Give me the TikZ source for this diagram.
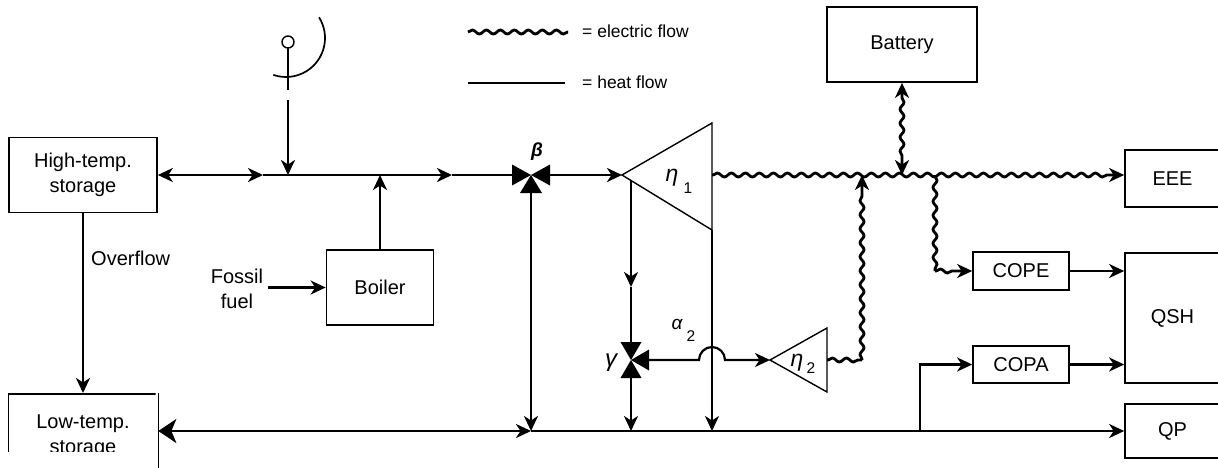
\documentclass[tikz,border=0pt]{standalone}
\usepackage{fontspec}
\setmainfont{Liberation Sans}
\usetikzlibrary{arrows.meta,decorations.pathmorphing,calc}
\begin{document}
\begin{tikzpicture}[x=1pt,y=-1pt,
  >={Stealth[length=15pt,width=14pt,inset=4.5pt]},
  box/.style={draw, line width=1.7pt, inner sep=0pt, font=\fontsize{20}{25}\selectfont, align=center},
  heat/.style={line width=2.6pt},
  thinheat/.style={line width=2.2pt},
  elec/.style={line width=2.8pt, decorate, decoration={snake, segment length=14pt, amplitude=2pt, pre length=1pt, post length=15pt}},
  elecboth/.style={line width=2.8pt, decorate, decoration={snake, segment length=14pt, amplitude=2pt, pre length=15pt, post length=15pt}},
  eleclegend/.style={line width=2.8pt, decorate, decoration={snake, segment length=14pt, amplitude=2pt}},
  lbl/.style={font=\fontsize{20}{25}\selectfont, inner sep=0pt},
  greek/.style={font=\fontsize{23}{26}\selectfont\itshape, inner sep=0pt},
  sub/.style={font=\fontsize{15.5}{18}\selectfont, inner sep=0pt},
  leg/.style={font=\fontsize{17.5}{20}\selectfont, inner sep=0pt, anchor=west},
  tri/.style={draw, line width=1.4pt, line join=miter},
  valve/.style={fill=black},
]
\useasboundingbox (0,0) rectangle (1218,467);
\clip (0,0) rectangle (1218,467);

% ---------- boxes ----------
\node[box, minimum width=148pt, minimum height=75pt] (HT) at (83,175) {High-temp.\\storage};
\node[box, minimum width=107pt, minimum height=75pt] (BO) at (380,287.5) {Boiler};
\node[box, minimum width=150pt, minimum height=75pt] (BA) at (902,44.5) {Battery};
\node[box, minimum width=95pt, minimum height=57pt] (EEE) at (1172.5,178.5) {EEE};
\node[box, minimum width=95pt, minimum height=130pt] (QSH) at (1172.5,318) {QSH};
\node[box, minimum width=95pt, minimum height=54pt] (QP) at (1172.5,431) {QP};
\node[box, minimum width=96pt, minimum height=38pt] (COPE) at (1021,271) {COPE};
\node[box, minimum width=96pt, minimum height=37pt] (COPA) at (1021,364.5) {COPA};
\begin{scope}
  \clip (0,380) rectangle (155.6,451);
  \node[box, minimum width=149pt, minimum height=100pt, anchor=north] (LT) at (83,393) {};
  \node[lbl, align=center] (LTtext) at (83,436) {Low-temp.\\storage};
\end{scope}
\draw[line width=1.7pt] (LT.north east) -- ($(LT.north east)+(0,80)$);

% ---------- legend ----------
\coordinate (l1a) at (468,32); \coordinate (l1b) at (568,32);
\coordinate (l2a) at (468,83); \coordinate (l2b) at (565,83);
\draw[eleclegend] (l1a) -- (l1b);
\draw[heat] (l2a) -- (l2b);
\node[leg] (legE) at (582,31) {= electric flow};
\node[leg] (legH) at (582,82) {= heat flow};

% ---------- solar collector ----------
\coordinate (sol) at (288,42);
\draw[line width=1.4pt] (sol) circle[radius=6];
\draw[line width=1.7pt] ($(sol)+(0,6)$) -- (288,90);
\draw[line width=1.7pt] ($(286,38)+(-32:39)$) arc[start angle=-32,end angle=109,radius=39];

% ---------- key coordinates ----------
\coordinate (a1) at (263,175);
\coordinate (sj) at (288,175);
\coordinate (a2) at (452,175);
\coordinate (beta) at (531,175);
\coordinate (e1) at (622,175);
\coordinate (e1t) at (712,123);
\coordinate (e1b) at (712,230);
\coordinate (bA) at (531,431);
\coordinate (gam) at (631,360);
\coordinate (g0) at (631,180.5);
\coordinate (g1) at (631,287);
\coordinate (e2) at (770,360);
\coordinate (e2t) at (827,328);
\coordinate (e2b) at (827,392);
\coordinate (cj) at (920,431);
\coordinate (ec) at (862,360);
\coordinate (cc) at (935,271);

% ---------- turbine eta1 and eta2 ----------
\draw[tri] (e1) -- (e1t) -- (e1b) -- cycle;
\draw[tri] (e2) -- (e2t) -- (e2b) -- cycle;

% ---------- valves ----------
\fill[valve] (beta) -- ++(-19,-10.5) -- ++(0,21) -- cycle;
\fill[valve] (beta) -- ++(19,-10.5) -- ++(0,21) -- cycle;
\fill[valve] (beta) -- ++(-11,18) -- ++(22,0) -- cycle;
\fill[valve] (gam) -- ++(-10.5,-18) -- ++(21,0) -- cycle;
\fill[valve] (gam) -- ++(-10.5,18) -- ++(21,0) -- cycle;
\fill[valve] (gam) -- ++(18,-10.5) -- ++(0,21) -- cycle;

% ---------- heat connectors ----------
\draw[heat,<->] (HT.east |- a1) -- (a1);
\draw[heat,->] (a1) -- (a2);
\draw[heat] (a2) -- ($(beta)+(-18,0)$);
\draw[heat,->] ($(beta)+(18,0)$) -- (e1);
\draw[heat,->] (288,100) -- (sj);
\draw[heat,->] (BO.north) -- (BO.north |- sj);
\draw[heat,->] (HT.south) -- (LT.north);
\draw[heat,->] ($(beta)+(0,18)$) -- (bA);
\draw[heat,{Stealth[length=18pt,width=24pt,inset=5pt]}->] (LT.north east |- bA) -- (bA);
\draw[heat,->] (bA) -- (QP.west);
\draw[thinheat,->] (g0) -- (g1);
\draw[thinheat] (g1) -- ($(gam)+(0,-18)$);
\draw[thinheat,->] ($(gam)+(0,18)$) -- (gam |- bA);
\draw[thinheat,->] (e1b) -- (e1b |- bA);
\draw[thinheat,->] ($(gam)+(18,0)$) -- (699,360) arc[start angle=180,end angle=360,radius=13] -- (e2);
\draw[heat,->] (cj) |- (COPA.west);
\draw[thinheat,->] (COPE.east) -- (COPE.east -| QSH.west);
\draw[thinheat,->] (COPA.east) -- (COPA.east -| QSH.west);

% ---------- fossil fuel ----------
\node[lbl, align=center] (FF) at (237,289) {Fossil\\fuel};
\draw[thinheat,->] (268,287.5) -- (BO.west);

% ---------- electric connectors ----------
\draw[elec,->] (e1 -| e1t) -- (EEE.west |- e1);
\draw[elecboth,<->] (BA.south) -- (BA.south |- e1);
\draw[elec,decoration={post length=1pt}] (e2 -| e2t) -- (ec);
\draw[elec,->] (ec) -- (ec |- e1);
\draw[elec,decoration={post length=1pt}] (cc |- e1) -- (cc);
\draw[elec,->,decoration={post length=14pt}] (cc) -- (COPE.west);

% ---------- labels ----------
\node[lbl, anchor=west] (lOver) at (91,258) {Overflow};
\node[lbl, font=\fontsize{19}{22}\selectfont\bfseries\itshape] (lbeta) at (537,152) {β};
\node[greek, font=\fontsize{24}{28}\selectfont\itshape] (lgam) at (611,363) {γ};
\node[greek] (leta1) at (672,178) {η};
\node[sub] (leta1s) at (688,188) {1};
\node[lbl, font=\fontsize{19}{22}\selectfont\itshape] (lal) at (677,324) {α};
\node[sub] (lals) at (691,336) {2};
\node[greek] (leta2) at (797,363) {η};
\node[sub] (leta2s) at (811,368) {2};
\end{tikzpicture}
\end{document}
